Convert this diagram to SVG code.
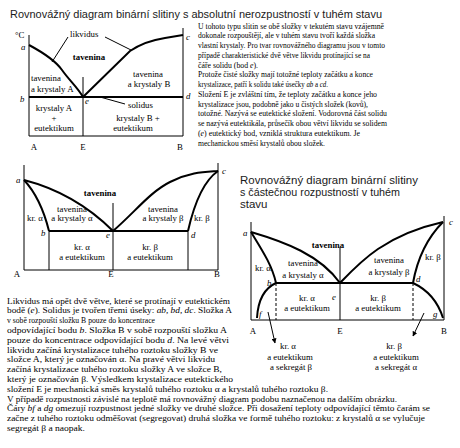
<svg xmlns="http://www.w3.org/2000/svg" width="460" height="448" viewBox="0 0 460 448">
<defs>
<marker id="ah" viewBox="0 0 10 10" refX="9" refY="5" markerWidth="5" markerHeight="5" orient="auto"><path d="M0,0 L10,5 L0,10 z" fill="#000"/></marker>
<style>
.title{font-family:"Liberation Sans",Arial,sans-serif;font-size:11.5px;fill:#1a1a1a}
.body{font-family:"Liberation Serif","Times New Roman",serif;font-size:9px;fill:#000}
.lbl{font-family:"Liberation Serif","Times New Roman",serif;font-size:8.8px;fill:#000}
.m{text-anchor:middle}
.b{font-weight:bold}
.it{font-style:italic}
.ax{stroke:#000;stroke-width:1;fill:none}
.cv{stroke:#000;stroke-width:2;fill:none}
.dash{stroke:#000;stroke-width:1;stroke-dasharray:3,2;fill:none}
</style>
</defs>
<rect width="460" height="448" fill="#fff"/>

<text class="title" x="10" y="17.5" textLength="372" lengthAdjust="spacingAndGlyphs">Rovnovážný diagram binární slitiny s absolutní nerozpustností v tuhém stavu</text>

<!-- Diagram 1 -->
<g id="diagram1">
  <g id="d1-lines">
    <path class="ax" d="M29,35 V136 H183 V28"/>
    <path class="ax" d="M83,77 V136"/>
    <path class="cv" d="M29,97 H183"/>
    <path class="cv" d="M29,45 C42,52 55,60 62,70 S78,88 83,97"/>
    <path class="cv" d="M83,97 L130,51 Q145,41 165,38 L183,35"/>
    <path class="ax" d="M68,37 L52,62"/>
    <path class="ax" d="M105,37 L131,50"/>
    <path class="ax" d="M100,97 L125,104"/>
  </g>
  <g id="d1-labels" class="lbl">
    <text x="15" y="38">°C</text>
    <text class="it" x="21" y="50">a</text>
    <text class="it" x="20" y="102">b</text>
    <text class="it" x="186" y="40">c</text>
    <text class="it" x="186" y="99">d</text>
    <text class="it" x="85" y="104">e</text>
    <text x="70" y="37">likvidus</text>
    <text x="128" y="108">solidus</text>
    <text class="m b" x="89" y="60">tavenina</text>
    <text x="31" y="81">tavenina</text>
    <text x="31" y="92">a krystaly A</text>
    <text class="m" x="148" y="77">tavenina</text>
    <text class="m" x="149" y="87">a krystaly B</text>
    <text class="m" x="54" y="111">krystaly A</text>
    <text class="m" x="54" y="121">+</text>
    <text class="m" x="54" y="131">eutektikum</text>
    <text class="m" x="138" y="121">krystaly B +</text>
    <text class="m" x="133" y="131">eutektikum</text>
    <text class="m" x="34" y="150">A</text>
    <text class="m" x="83" y="150">E</text>
    <text class="m" x="180" y="150">B</text>
  </g>
</g>

<g id="text1" class="body">
  <text x="198" y="28.5" textLength="186" lengthAdjust="spacingAndGlyphs">U tohoto typu slitin se obě složky v tekutém stavu vzájemně</text>
  <text x="198" y="38.25" textLength="177" lengthAdjust="spacingAndGlyphs">dokonale rozpouštějí, ale v tuhém stavu tvoří každá složka</text>
  <text x="198" y="48" textLength="187" lengthAdjust="spacingAndGlyphs">vlastní krystaly. Pro tvar rovnovážného diagramu jsou v tomto</text>
  <text x="198" y="57.75" textLength="172" lengthAdjust="spacingAndGlyphs">případě charakteristické dvě větve likvidu protínající se na</text>
  <text x="198" y="67.5" textLength="60" lengthAdjust="spacingAndGlyphs">čáře solidu (bod <tspan class="it">e</tspan>).</text>
  <text x="198" y="77.25" textLength="175" lengthAdjust="spacingAndGlyphs">Protože čisté složky mají totožné teploty začátku a konce</text>
  <text x="198" y="87" textLength="130" lengthAdjust="spacingAndGlyphs">krystalizace, patří k solidu také úsečky <tspan class="it">ab</tspan> a <tspan class="it">cd</tspan>.</text>
  <text x="198" y="96.75" textLength="179" lengthAdjust="spacingAndGlyphs">Složení E je zvláštní tím, že teploty začátku a konce jeho</text>
  <text x="198" y="106.5" textLength="170" lengthAdjust="spacingAndGlyphs">krystalizace jsou, podobně jako u čistých složek (kovů),</text>
  <text x="198" y="116.25" textLength="189" lengthAdjust="spacingAndGlyphs">totožné. Nazývá se eutektické složení. Vodorovná část solidu</text>
  <text x="198" y="126" textLength="189" lengthAdjust="spacingAndGlyphs">se nazývá eutektikála, průsečík obou větví likvidu se solidem</text>
  <text x="198" y="135.75" textLength="162" lengthAdjust="spacingAndGlyphs">(<tspan class="it">e</tspan>) eutektický bod, vzniklá struktura eutektikum. Je</text>
  <text x="198" y="145.5" textLength="127" lengthAdjust="spacingAndGlyphs">mechanickou směsí krystalů obou složek.</text>
</g>

<!-- Diagram 2 -->
<g id="diagram2">
  <g id="d2-lines">
    <path class="ax" d="M24,165 V270 H218 V163"/>
    <path class="ax" d="M113,203 V270 M49,231 V270 M188,231 V270"/>
    <path class="cv" d="M49,231 H188"/>
    <path class="cv" d="M24,180 C55,188 85,203 113,231"/>
    <path class="cv" d="M24,180 C38,195 45,215 49,231"/>
    <path class="cv" d="M113,231 C135,212 150,192 170,182 S205,172 218,171"/>
    <path class="cv" d="M218,171 C205,180 195,200 188,231"/>
  </g>
  <g id="d2-labels" class="lbl">
    <text class="it" x="16" y="183">a</text>
    <text class="it" x="222" y="174">c</text>
    <text class="m b" x="100" y="196">tavenina</text>
    <text x="27" y="221">kr. α</text>
    <text class="m" x="72" y="212">tavenina</text>
    <text class="m" x="72" y="221">a krystaly α</text>
    <text class="m" x="163" y="212">tavenina</text>
    <text class="m" x="163" y="221">a krystaly β</text>
    <text x="194" y="221">kr. β</text>
    <text class="it" x="41" y="236">b</text>
    <text class="it" x="106" y="238">e</text>
    <text class="it" x="191" y="238">d</text>
    <text class="m" x="82" y="250">kr. α</text>
    <text class="m" x="82" y="260">a eutektikum</text>
    <text class="m" x="150" y="250">kr. β</text>
    <text class="m" x="150" y="260">a eutektikum</text>
    <text class="m" x="17" y="277">A</text>
    <text class="m" x="111" y="277">E</text>
    <text class="m" x="217" y="277">B</text>
  </g>
</g>

<g id="title3" class="title">
  <text x="240" y="183.5" textLength="178" lengthAdjust="spacingAndGlyphs">Rovnovážný diagram binární slitiny</text>
  <text x="240" y="195.5" textLength="160" lengthAdjust="spacingAndGlyphs">s částečnou rozpustností v tuhém</text>
  <text x="240" y="207.5">stavu</text>
</g>

<!-- Diagram 3 -->
<g id="diagram3">
  <g id="d3-lines">
    <path class="ax" d="M251,222 V320 H444 V216"/>
    <path class="ax" d="M340,247 V320"/>
    <path class="dash" d="M276,283 V320 M413,283 V320"/>
    <path class="cv" d="M276,283 H413"/>
    <path class="cv" d="M251,232 C285,242 320,255 340,283"/>
    <path class="cv" d="M251,232 C262,250 272,265 276,283"/>
    <path class="cv" d="M340,283 C360,262 385,235 443,222"/>
    <path class="cv" d="M443,222 C430,235 418,255 413,283"/>
    <path class="cv" d="M276,283 C265,288 258,300 257,318"/>
    <path class="cv" d="M413,283 C428,290 438,302 443,318"/>
  </g>
  <g id="connectors">
    <path class="ax" d="M268,312 L275,343" marker-end="url(#ah)"/>
    <path class="ax" d="M424,313 L413,336" marker-end="url(#ah)"/>
  </g>
  <g id="d3-labels" class="lbl">
    <text class="it" x="243" y="236">a</text>
    <text class="it" x="449" y="225">c</text>
    <text class="m b" x="328" y="248">tavenina</text>
    <text x="255" y="271">kr. α</text>
    <text class="m" x="303" y="266">tavenina</text>
    <text class="m" x="303" y="278">a krystaly α</text>
    <text class="m" x="389" y="263">tavenina</text>
    <text class="m" x="389" y="275">a krystaly β</text>
    <text x="425" y="260">kr. β</text>
    <text class="it" x="267" y="286">b</text>
    <text class="it" x="416" y="282">d</text>
    <text class="it" x="332" y="300">e</text>
    <text class="m" x="307" y="301">kr. α</text>
    <text class="m" x="307" y="311">a eutektikum</text>
    <text class="m" x="378" y="301">kr. β</text>
    <text class="m" x="378" y="311">a eutektikum</text>
    <text class="it" x="259" y="317">f</text>
    <text class="it" x="433" y="317">g</text>
    <text class="m" x="253" y="334">A</text>
    <text class="m" x="340" y="334">E</text>
    <text class="m" x="444" y="334">B</text>
    <text class="m" x="288" y="349">kr. α</text>
    <text class="m" x="290" y="359.5">a eutektikum</text>
    <text class="m" x="291" y="370">a sekregát β</text>
    <text class="m" x="394" y="349">kr. β</text>
    <text class="m" x="396" y="359.5">a eutektikum</text>
    <text class="m" x="396" y="370">a sekregát α</text>
  </g>
</g>

<g id="text2" class="body">
  <text x="7" y="303.5" textLength="223" lengthAdjust="spacingAndGlyphs">Likvidus má opět dvě větve, které se protínají v eutektickém</text>
  <text x="7" y="313.3" textLength="225" lengthAdjust="spacingAndGlyphs">bodě (<tspan class="it">e</tspan>). Solidus je tvořen třemi úseky: <tspan class="it">ab</tspan>, <tspan class="it">bd</tspan>, <tspan class="it">dc</tspan>. Složka A</text>
  <text x="7" y="323.1" textLength="148" lengthAdjust="spacingAndGlyphs">v sobě rozpouští složku B pouze do koncentrace</text>
  <text x="7" y="332.9" textLength="220" lengthAdjust="spacingAndGlyphs">odpovídající bodu <tspan class="it">b</tspan>. Složka B v sobě rozpouští složku A</text>
  <text x="7" y="342.7" textLength="222" lengthAdjust="spacingAndGlyphs">pouze do koncentrace odpovídající bodu <tspan class="it">d</tspan>. Na levé větvi</text>
  <text x="7" y="352.5" textLength="211" lengthAdjust="spacingAndGlyphs">likvidu začíná krystalizace tuhého roztoku složky B ve</text>
  <text x="7" y="362.3" textLength="208" lengthAdjust="spacingAndGlyphs">složce A, který je označován α. Na pravé větvi likvidu</text>
  <text x="7" y="372.1" textLength="215" lengthAdjust="spacingAndGlyphs">začíná krystalizace tuhého roztoku složky A ve složce B,</text>
  <text x="7" y="381.9" textLength="226" lengthAdjust="spacingAndGlyphs">který je označován β. Výsledkem krystalizace eutektického</text>
  <text x="7" y="391.7" textLength="321" lengthAdjust="spacingAndGlyphs">složení E je mechanická směs krystalů tuhého roztoku α a krystalů tuhého roztoku β.</text>
  <text x="7" y="401.5" textLength="390" lengthAdjust="spacingAndGlyphs">V případě rozpustnosti závislé na teplotě má rovnovážný diagram podobu naznačenou na dalším obrázku.</text>
  <text x="7" y="411.3" textLength="423" lengthAdjust="spacingAndGlyphs">Čáry <tspan class="it">bf</tspan> a <tspan class="it">dg</tspan> omezují rozpustnost jedné složky ve druhé složce. Při dosažení teploty odpovídající těmto čarám se</text>
  <text x="7" y="421.1" textLength="418" lengthAdjust="spacingAndGlyphs">začne z tuhého roztoku odměšovat (segregovat) druhá složka ve formě tuhého roztoku: z krystalů α se vylučuje</text>
  <text x="7" y="430.9" textLength="78" lengthAdjust="spacingAndGlyphs">segregát β a naopak.</text>
</g>
</svg>
